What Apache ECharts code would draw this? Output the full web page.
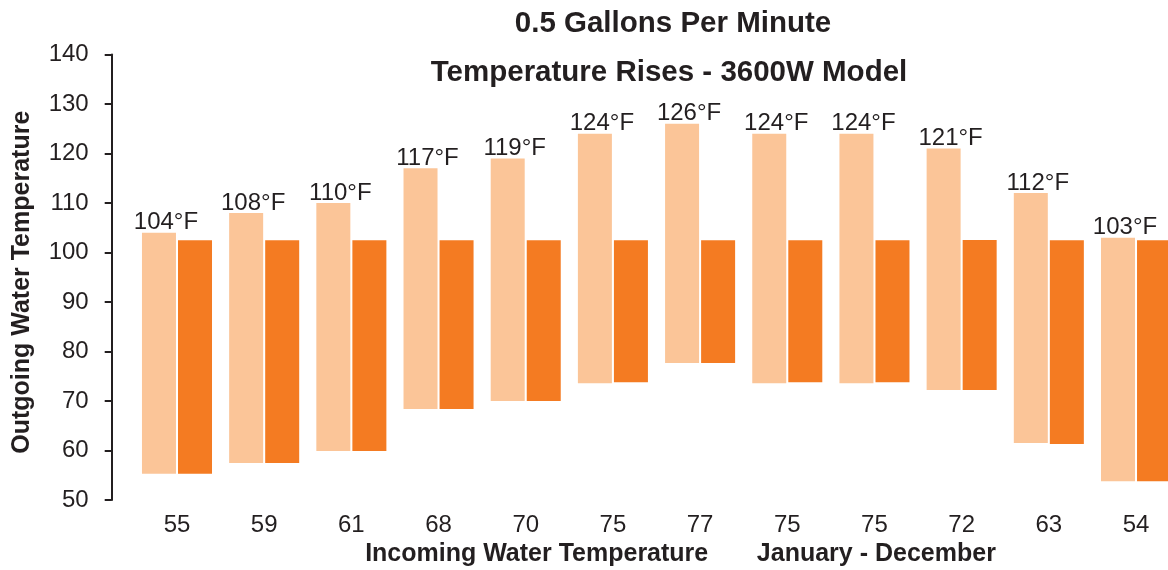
<!DOCTYPE html>
<html>
<head>
<meta charset="utf-8">
<script src="https://cdn.jsdelivr.net/npm/echarts@6/dist/echarts.min.js"></script>
<style>
  html, body { margin: 0; padding: 0; background: #fff; }
  #chart { width: 1168px; height: 570px; }
</style>
</head>
<body>
<div id="chart"></div>
<script>
// Incoming water temperature per month (category labels)
const categories = ['55', '59', '61', '68', '70', '75', '77', '75', '75', '72', '63', '54'];
// Bottom of each light bar (incoming temperature, °F)
const lightLow = [55.3, 57.5, 59.9, 68.4, 70, 73.6, 77.7, 73.6, 73.6, 72.2, 61.5, 53.8];
// Top of each light bar: outgoing temperature reached (°F)
const lightHigh = [104, 108, 110, 117, 119, 124, 126, 124, 124, 121, 112, 103];
// Bottom of each dark bar
const darkLow = [55.3, 57.5, 59.9, 68.4, 70, 73.8, 77.7, 73.8, 73.8, 72.2, 61.3, 53.8];
// Top of each dark bar: delivered temperature
const darkHigh = [102.5, 102.5, 102.5, 102.5, 102.5, 102.5, 102.5, 102.5, 102.5, 102.5, 102.5, 102.5];
// Y axis ticks
const yMin = 50, yMax = 140, yStep = 10;

const FONT = '"Liberation Sans", Arial, Helvetica, sans-serif';
const TEXT = '#231f20';
const LIGHT = '#fbc598';
const DARK = '#f47b22';

const lightSpan = lightHigh.map((v, i) => +(v - lightLow[i]).toFixed(2));
const darkSpan = darkHigh.map((v, i) => +(v - darkLow[i]).toFixed(2));

const chart = echarts.init(document.getElementById('chart'), null, { renderer: 'canvas' });

chart.setOption({
  animation: false,
  backgroundColor: '#ffffff',
  title: [
    {
      text: '0.5 Gallons Per Minute',
      left: 668, top: 4, textAlign: 'center',
      textStyle: { fontFamily: FONT, fontWeight: 'bold', fontSize: 29.5, color: TEXT }
    },
    {
      text: 'Temperature Rises - 3600W Model',
      left: 664, top: 53, textAlign: 'center',
      textStyle: { fontFamily: FONT, fontWeight: 'bold', fontSize: 29.5, color: TEXT }
    }
  ],
  grid: {
    left: 133.4, right: -11.6, top: 54.5, bottom: 70,
    containLabel: false, outerBoundsMode: 'none'
  },
  xAxis: {
    type: 'category',
    data: categories,
    axisLine: { show: false },
    axisTick: { show: false },
    axisLabel: { fontFamily: FONT, fontSize: 24, color: TEXT, margin: 13 },
    name: 'Incoming Water Temperature       January - December',
    nameLocation: 'middle',
    nameGap: 40,
    nameTextStyle: { fontFamily: FONT, fontWeight: 'bold', fontSize: 25, color: TEXT, padding: [0, 0, 0, 48] }
  },
  yAxis: {
    type: 'value',
    min: yMin, max: yMax, interval: yStep,
    offset: 21.7,
    axisLine: { show: true, lineStyle: { color: TEXT, width: 2 } },
    axisTick: { show: true, length: 7, lineStyle: { color: TEXT, width: 2 } },
    splitLine: { show: false },
    axisLabel: { fontFamily: FONT, fontSize: 24, color: TEXT, margin: 23 },
    name: 'Outgoing Water Temperature',
    nameLocation: 'middle',
    nameRotate: 90,
    nameGap: 77,
    nameTextStyle: { fontFamily: FONT, fontWeight: 'bold', fontSize: 25, color: TEXT, padding: [0, 10, 0, 0] }
  },
  series: [
    {
      type: 'bar', stack: 'light', data: lightLow, barWidth: 34, barGap: '6%',
      itemStyle: { color: 'transparent' }, silent: true
    },
    {
      type: 'bar', stack: 'light', data: lightSpan, barWidth: 34, barGap: '6%',
      itemStyle: { color: LIGHT },
      label: {
        show: true, position: 'top', distance: 0, offset: [7, 2],
        fontFamily: FONT, fontSize: 24, color: TEXT,
        formatter: p => lightHigh[p.dataIndex] + '°F'
      }
    },
    {
      type: 'bar', stack: 'dark', data: darkLow, barWidth: 34, barGap: '6%',
      itemStyle: { color: 'transparent' }, silent: true
    },
    {
      type: 'bar', stack: 'dark', data: darkSpan, barWidth: 34, barGap: '6%',
      itemStyle: { color: DARK }
    }
  ]
});
</script>
</body>
</html>
